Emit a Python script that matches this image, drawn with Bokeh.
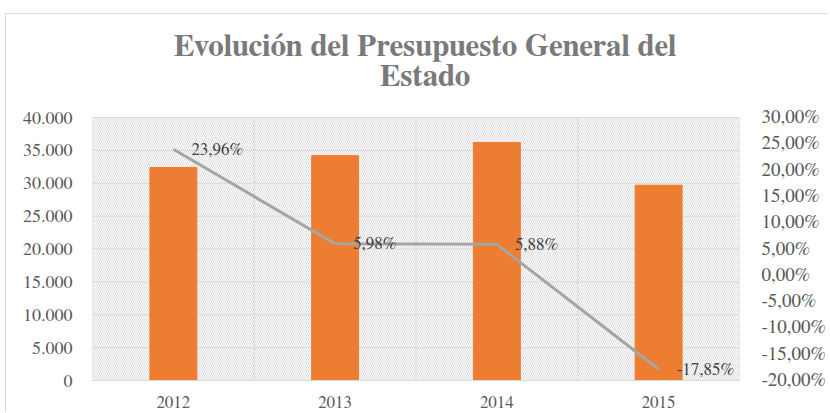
from bokeh.plotting import figure
from bokeh.models import (Range1d, LinearAxis, FixedTicker, CustomJSTickFormatter,
                          BoxAnnotation, ColumnDataSource, Label)
from bokeh.core.properties import value
from bokeh.embed import file_html
from bokeh.resources import INLINE

years = ["2012", "2013", "2014", "2015"]
budget = [32400, 34200, 36200, 29700]
growth = [23.96, 5.98, 5.88, -17.85]
growth_labels = ["23,96%", "5,98%", "5,88%", "-17,85%"]
left_ticks = [0, 5000, 10000, 15000, 20000, 25000, 30000, 35000, 40000]
right_ticks = [-20, -15, -10, -5, 0, 5, 10, 15, 20, 25, 30]
title_lines = ["Evolución del Presupuesto General del", "Estado"]

xs = list(range(len(years)))
src = ColumnDataSource(dict(x=xs, budget=budget, growth=growth, lbl=growth_labels))

FONT = "FreeSerif"
GRID = "#D9D9D9"
TICK = "#595959"

# layout: the frame reaches up to the title area; the value area is 263 px tall
PLOT_H = 399
BOTTOM = 33
AREA_PX = 263
y_min, y_max = left_ticks[0], left_ticks[-1]
p_min, p_max = right_ticks[0], right_ticks[-1]
stretch = (PLOT_H - BOTTOM) / AREA_PX
y_top = y_min + (y_max - y_min) * stretch
p_top = p_min + (p_max - p_min) * stretch

p = figure(width=822, height=PLOT_H, output_backend="svg", toolbar_location=None,
           x_range=Range1d(-0.5, len(years) - 0.5), y_range=Range1d(y_min, y_top),
           min_border_left=86, min_border_right=80, min_border_top=0,
           min_border_bottom=BOTTOM)
p.styles = {"border-left": "1px solid #D9D9D9", "border-top": "1px solid #D9D9D9",
            "margin-left": "5px", "margin-top": "13px"}
p.outline_line_color = None
p.background_fill_color = "white"
p.title.visible = False

p.extra_y_ranges = {"pct": Range1d(p_min, p_top)}

# hatched plot-area background
p.add_layout(BoxAnnotation(bottom=y_min, top=y_max, fill_alpha=0, line_color=None,
                           hatch_pattern="\\", hatch_color="#DCDCDC", hatch_scale=4,
                           hatch_weight=1, level="image"))

# grid lines
boundaries = [i - 0.5 for i in range(len(years) + 1)]
p.segment(x0=boundaries, y0=[y_min] * len(boundaries), x1=boundaries,
          y1=[y_max] * len(boundaries), line_color=GRID, line_width=1)
p.segment(x0=[boundaries[0]] * len(left_ticks), y0=left_ticks,
          x1=[boundaries[-1]] * len(left_ticks), y1=left_ticks,
          line_color=GRID, line_width=1)
p.xgrid.grid_line_color = None
p.ygrid.grid_line_color = None

p.vbar(x="x", top="budget", width=0.29, source=src, color="#ED7D31")
p.line(x="x", y="growth", source=src, y_range_name="pct", line_color="#A5A5A5",
       line_width=3)
p.text(x="x", y="growth", text="lbl", source=src, y_range_name="pct", x_offset=18,
       text_baseline="middle", text_font=value(FONT), text_font_size="17px",
       text_color="#404040")

# title (offsets in pixels above the top of the value area)
for txt, dy in zip(title_lines, [71, 41]):
    p.add_layout(Label(x=(len(years) - 1) / 2, y=y_max, x_offset=9, y_offset=dy,
                       text=txt, text_align="center", text_baseline="alphabetic",
                       text_font=FONT, text_font_size="31px", text_font_style="bold",
                       text_color="#7A7A7A"))

# axes
p.xaxis.ticker = FixedTicker(ticks=xs)
p.xaxis.major_label_overrides = {i: y for i, y in enumerate(years)}
p.xaxis.axis_line_color = GRID
p.xaxis.major_tick_line_color = None
p.xaxis.minor_tick_line_color = None
p.xaxis.major_label_text_font = FONT
p.xaxis.major_label_text_font_size = "17px"
p.xaxis.major_label_text_color = TICK
p.xaxis.major_label_standoff = 10

p.yaxis.ticker = FixedTicker(ticks=left_ticks)
p.yaxis.formatter = CustomJSTickFormatter(code="""
    return tick.toFixed(0).replace(/\\B(?=(\\d{3})+(?!\\d))/g, '.');
""")
p.yaxis.axis_line_color = None
p.yaxis.major_tick_line_color = None
p.yaxis.minor_tick_line_color = None
p.yaxis.major_label_text_font = FONT
p.yaxis.major_label_text_font_size = "18px"
p.yaxis.major_label_text_color = TICK
p.yaxis.major_label_standoff = 14

ra = LinearAxis(y_range_name="pct", ticker=FixedTicker(ticks=right_ticks),
                formatter=CustomJSTickFormatter(code="return tick.toFixed(2).replace('.', ',') + '%';"))
ra.axis_line_color = None
ra.major_tick_line_color = None
ra.minor_tick_line_color = None
ra.major_label_text_font = FONT
ra.major_label_text_font_size = "19px"
ra.major_label_text_color = TICK
ra.major_label_standoff = 16
p.add_layout(ra, "right")

open("out.html", "w").write(file_html(p, INLINE))
